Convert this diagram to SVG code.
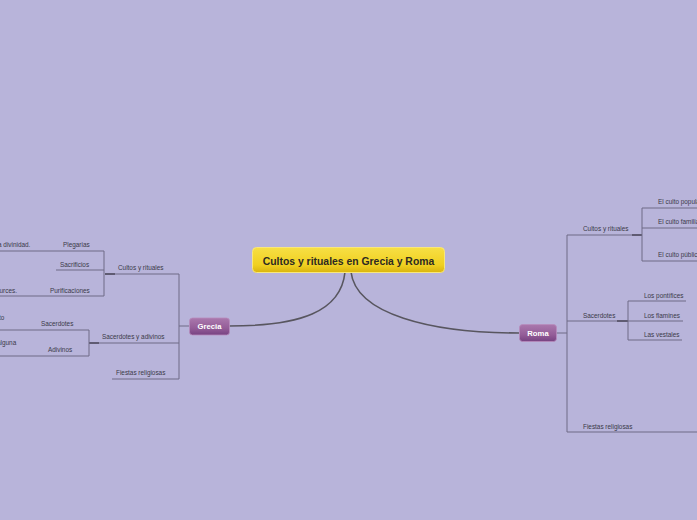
<svg xmlns="http://www.w3.org/2000/svg" width="697" height="520" viewBox="0 0 697 520">
<defs>
<linearGradient id="gy" x1="0" y1="0" x2="0" y2="1">
<stop offset="0" stop-color="#f7df45"/>
<stop offset="0.7" stop-color="#f0d020"/>
<stop offset="1" stop-color="#d9b40e"/>
</linearGradient>
<linearGradient id="gp" x1="0" y1="0" x2="0" y2="1">
<stop offset="0" stop-color="#aa78ad"/>
<stop offset="0.6" stop-color="#945d98"/>
<stop offset="1" stop-color="#774281"/>
</linearGradient>
</defs>
<style>
.t{font-family:"Liberation Sans",Arial,sans-serif;font-size:6.4px;fill:#3a3a48}
.b{fill:none;stroke:#6f6b86;stroke-width:1}
.s{fill:none;stroke:#5f5b72;stroke-width:2}
.c{fill:none;stroke:#58565f;stroke-width:1.6}
.n{font-family:"Liberation Sans",Arial,sans-serif;font-weight:bold;font-size:7.7px;fill:#ffffff;text-anchor:middle}
</style>
<rect width="697" height="520" fill="#b8b4da"/>
<g id="connectors">
<path class="c" d="M345,272 C341,312 300,326 229,326"/>
<path class="c" d="M351,272 C356,314 430,333 519,333"/>
<!-- Grecia -->
<path class="b" d="M189,326 H179 M179,274 V379 M179,274 H105 M179,343 H89 M179,379 H112"/>
<path class="s" d="M105,274 H115 M89,343 H99"/>
<path class="b" d="M104,251 V296 M104,251 H0 M104,270 H56 M104,296 H0"/>
<path class="b" d="M89,330 V356 M89,330 H0 M89,356 H0"/>
<!-- Roma -->
<path class="b" d="M556,333 H567 M567,235 V432 M567,235 H642 M567,321 H628 M567,432 H697"/>
<path class="s" d="M632,235 H642 M617,321 H628"/>
<path class="b" d="M642,208 V261 M642,208 H697 M642,228 H697 M642,261 H697"/>
<path class="b" d="M628,301 V340 M628,301 H686 M628,321 H683 M628,340 H682"/>
</g>
<g id="central">
<rect x="252.5" y="247.5" width="192" height="25" rx="4" fill="url(#gy)" stroke="#f8e77a" stroke-width="1"/>
<text x="348.5" y="264.5" text-anchor="middle" font-family="Liberation Sans,Arial,sans-serif" font-weight="bold" font-size="10.4" fill="#2d2a22">Cultos y rituales en Grecia y Roma</text>
</g>
<g id="grecia">
<rect x="189.5" y="318" width="40" height="17" rx="3" fill="url(#gp)" stroke="#b78cbc" stroke-width="0.8"/>
<text class="n" x="209.5" y="329">Grecia</text>
</g>
<g id="roma">
<rect x="519.5" y="324.5" width="37" height="17" rx="3" fill="url(#gp)" stroke="#b78cbc" stroke-width="0.8"/>
<text class="n" x="538" y="335.5">Roma</text>
</g>
<g id="g-cultos"><text class="t" x="118" y="270.2">Cultos y rituales</text></g>
<g id="g-sacadiv"><text class="t" x="102" y="339.4">Sacerdotes y adivinos</text></g>
<g id="g-fiestas"><text class="t" x="116" y="375.4">Fiestas religiosas</text></g>
<g id="g-plegarias"><text class="t" x="63" y="247.4">Plegarias</text></g>
<g id="g-plegarias-1"><text class="t" x="-2" y="247.4">a divinidad.</text></g>
<g id="g-sacrificios"><text class="t" x="60" y="266.6">Sacrificios</text></g>
<g id="g-purif"><text class="t" x="50" y="292.6">Purificaciones</text></g>
<g id="g-purif-1"><text class="t" x="-4" y="292.6">ources.</text></g>
<g id="g-sacerdotes"><text class="t" x="41" y="326.4">Sacerdotes</text></g>
<g id="g-sacerdotes-1"><text class="t" x="-1" y="319.6">to</text></g>
<g id="g-adivinos"><text class="t" x="48" y="352.4">Adivinos</text></g>
<g id="g-adivinos-1"><text class="t" x="-3" y="345.4">alguna</text></g>
<g id="r-cultos"><text class="t" x="583" y="231.4">Cultos y rituales</text></g>
<g id="r-popular"><text class="t" x="658" y="204.4">El culto popular</text></g>
<g id="r-familiar"><text class="t" x="658" y="224.4">El culto familiar</text></g>
<g id="r-publico"><text class="t" x="658" y="257.4">El culto público</text></g>
<g id="r-sacerdotes"><text class="t" x="583" y="317.6">Sacerdotes</text></g>
<g id="r-pontifices"><text class="t" x="644" y="297.6">Los pontífices</text></g>
<g id="r-flamines"><text class="t" x="644" y="317.6">Los flamines</text></g>
<g id="r-vestales"><text class="t" x="644" y="336.6">Las vestales</text></g>
<g id="r-fiestas"><text class="t" x="583" y="428.6">Fiestas religiosas</text></g>
</svg>
